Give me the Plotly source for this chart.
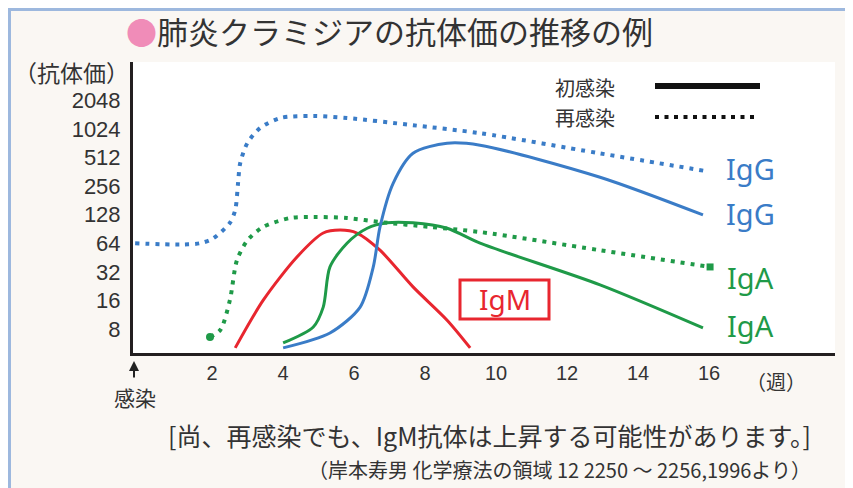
import plotly.graph_objects as go

# ---------------- data (weeks after infection, antibody titer) ----------------
igg_re_x = [-0.17, 1.1, 1.66, 2.03, 2.5, 2.65, 2.73, 2.79, 2.99, 3.35, 3.92, 4.85, 5.8, 7.66, 9.55, 12.9, 15.94]
igg_re_y = [64, 62, 64, 72, 105, 143, 275, 445, 724, 1045, 1334, 1400, 1334, 1120, 923, 568, 367]

igg_pr_x = [4.0, 5.32, 6.17, 6.54, 6.73, 7.1, 7.66, 8.62, 9.55, 12.93, 15.83]
igg_pr_y = [5.06, 7.26, 13.6, 36, 95, 274, 568, 724, 690, 317, 127]

iga_re_x = [1.94, 2.23, 2.5, 2.7, 3.0, 3.44, 4.2, 4.85, 5.8, 6.73, 8.14, 9.55, 12.93, 16.03]
iga_re_y = [6.6, 7.8, 16.1, 42.5, 69, 95, 118, 121, 118, 107, 95, 84, 54, 36]

iga_pr_x = [4.0, 4.85, 5.13, 5.32, 5.8, 6.37, 6.93, 7.66, 8.62, 9.55, 12.93, 15.83]
iga_pr_y = [5.7, 8.4, 13.6, 36, 64, 92, 105, 105, 92, 64, 23.3, 8.2]

igm_x = [2.65, 3.44, 4.39, 5.13, 5.61, 6.08, 6.73, 7.66, 8.62, 9.27]
igm_y = [5.06, 16.1, 45.9, 82, 88, 82, 54, 22.2, 9.9, 5.06]

x_ticks = [2, 4, 6, 8, 10, 12, 14, 16]
y_ticks = [8, 16, 32, 64, 128, 256, 512, 1024, 2048]
y_tick_labels = [str(v) for v in y_ticks]

BLUE = "#3a7cc7"
GREEN = "#1f9a48"
RED = "#e8262f"
TXT = "#333333"
JP = "Noto Sans CJK JP"
NUM = "Liberation Sans, Arial, sans-serif"
DOT = "4px,6px"

fig = go.Figure()

fig.add_trace(go.Scatter(x=igg_re_x, y=igg_re_y, mode="lines",
                         line=dict(color=BLUE, width=4, dash=DOT, shape="spline", smoothing=0.8)))
fig.add_trace(go.Scatter(x=iga_re_x, y=iga_re_y, mode="lines",
                         line=dict(color=GREEN, width=4, dash=DOT, shape="spline", smoothing=0.8)))
fig.add_trace(go.Scatter(x=[iga_re_x[0]], y=[iga_re_y[0]], mode="markers",
                         marker=dict(color=GREEN, size=8, symbol="circle")))
fig.add_trace(go.Scatter(x=[iga_re_x[-1]], y=[iga_re_y[-1]], mode="markers",
                         marker=dict(color=GREEN, size=7, symbol="square")))
fig.add_trace(go.Scatter(x=igm_x, y=igm_y, mode="lines",
                         line=dict(color=RED, width=3, shape="spline", smoothing=0.8)))
fig.add_trace(go.Scatter(x=iga_pr_x, y=iga_pr_y, mode="lines",
                         line=dict(color=GREEN, width=3, shape="spline", smoothing=0.8)))
fig.add_trace(go.Scatter(x=igg_pr_x, y=igg_pr_y, mode="lines",
                         line=dict(color=BLUE, width=3, shape="spline", smoothing=0.8)))

# page offset of the figure inside the browser window (body margin)
OFF = 8
# plot area in window pixels
L, R, T, B = 133, 835, 62, 353
W, H = R - L, B - T


def px(x):
    return (x - L) / W


def py(y):
    return (B - y) / H


ann = []


def txt(x, y, s, size, color=TXT, xanchor="center", font=JP):
    ann.append(dict(x=px(x), y=py(y), xref="paper", yref="paper", text=s, showarrow=False,
                    xanchor=xanchor, yanchor="middle", font=dict(family=font, size=size, color=color)))


txt(124, 31, "<span style='color:#f08cb8'>●</span>肺炎クラミジアの抗体価の推移の例", 31, xanchor="left")
txt(72, 72, "（抗体価）", 23)
txt(585, 87, "初感染", 20)
txt(585, 117, "再感染", 20)
txt(750, 168, "IgG", 29, BLUE, font="Noto Sans")
txt(750, 214, "IgG", 29, BLUE, font="Noto Sans")
txt(750, 277, "IgA", 29, GREEN, font="Noto Sans")
txt(750, 325, "IgA", 29, GREEN, font="Noto Sans")
txt(505, 299, "IgM", 28, RED, font="Noto Sans")
txt(776, 381, "（週）", 20)
txt(135, 397, "感染", 21)
txt(813, 435, "[尚、再感染でも、IgM抗体は上昇する可能性があります。]", 25, xanchor="right")
txt(813, 469, "（岸本寿男 化学療法の領域 12 2250 ～ 2256,1996より）", 20, xanchor="right")

# infection arrow
ann.append(dict(x=px(134), y=py(361), xref="paper", yref="paper", ax=0, ay=18, text="",
                showarrow=True, arrowhead=2, arrowsize=1, arrowwidth=2, arrowcolor="#222"))

shapes = [
    # white outside the frame
    dict(type="rect", xref="paper", yref="paper", x0=px(850), x1=px(880), y0=py(0), y1=py(500),
         line=dict(width=0), fillcolor="white", layer="below"),
    # frame
    dict(type="line", xref="paper", yref="paper", x0=px(OFF), x1=px(845), y0=py(OFF + 1.5), y1=py(OFF + 1.5),
         line=dict(color="#9db8de", width=3)),
    dict(type="line", xref="paper", yref="paper", x0=px(OFF + 1.5), x1=px(OFF + 1.5), y0=py(OFF), y1=py(500),
         line=dict(color="#9db8de", width=3)),
    dict(type="line", xref="paper", yref="paper", x0=px(849), x1=px(849), y0=py(12), y1=py(500),
         line=dict(color="#3c5a85", width=3)),
    # legend samples
    dict(type="line", xref="paper", yref="paper", x0=px(655), x1=px(760), y0=py(86), y1=py(86),
         line=dict(color="#111", width=6)),
    dict(type="line", xref="paper", yref="paper", x0=px(655), x1=px(758), y0=py(117), y1=py(117),
         line=dict(color="#111", width=4, dash="4px,5.5px")),
    # IgM box
    dict(type="rect", xref="paper", yref="paper", x0=px(460), x1=px(549), y0=py(280), y1=py(319),
         line=dict(color=RED, width=3)),
]

fig.update_layout(
    width=853, height=488,
    margin=dict(l=L - OFF, r=853 - (R - OFF), t=T - OFF, b=488 - (B - OFF)),
    paper_bgcolor="#faf7f3", plot_bgcolor="white",
    showlegend=False,
    annotations=ann, shapes=shapes,
    xaxis=dict(range=[-0.23, 19.55], tickvals=x_ticks, showgrid=False, zeroline=False,
               showline=True, linecolor="#231f20", linewidth=3, ticks="",
               ticklabelstandoff=0, tickfont=dict(family=NUM, size=20, color=TXT)),
    yaxis=dict(type="log", range=[0.650, 3.715], tickvals=y_ticks, ticktext=y_tick_labels,
               showgrid=False, zeroline=False, showline=True, linecolor="#231f20", linewidth=3,
               ticks="", ticklabelstandoff=5, tickfont=dict(family=NUM, size=22, color=TXT)),
)

fig.write_html("out.html")
